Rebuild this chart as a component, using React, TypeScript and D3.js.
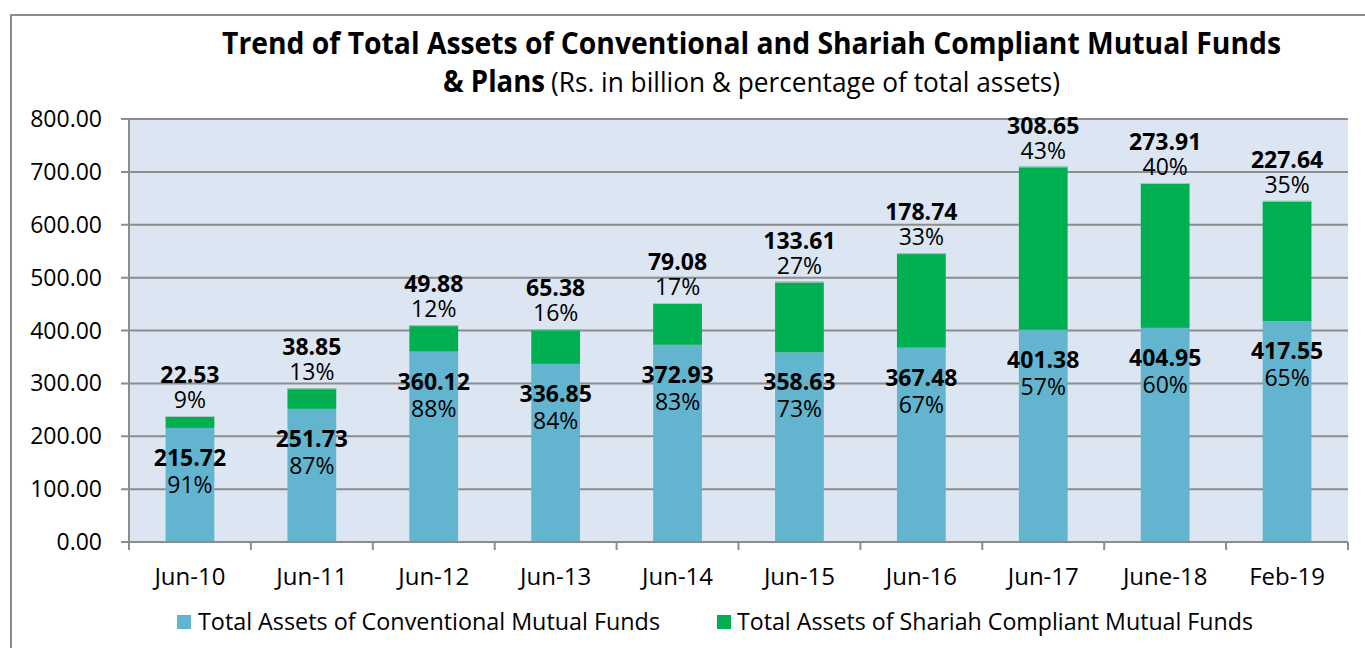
import React from "react";
import * as d3 from "d3";

const categories = ["Jun-10", "Jun-11", "Jun-12", "Jun-13", "Jun-14", "Jun-15", "Jun-16", "Jun-17", "June-18", "Feb-19"];
const conventional = [215.72, 251.73, 360.12, 336.85, 372.93, 358.63, 367.48, 401.38, 404.95, 417.55];
const shariah = [22.53, 38.85, 49.88, 65.38, 79.08, 133.61, 178.74, 308.65, 273.91, 227.64];
const conventionalPct = ["91%", "87%", "88%", "84%", "83%", "73%", "67%", "57%", "60%", "65%"];
const shariahPct = ["9%", "13%", "12%", "16%", "17%", "27%", "33%", "43%", "40%", "35%"];
const yTicks = [0, 100, 200, 300, 400, 500, 600, 700, 800];
const seriesNames = ["Total Assets of Conventional Mutual Funds", "Total Assets of Shariah Compliant Mutual Funds"];

const W = 1365;
const H = 648;
const M = { left: 129, right: 1348, top: 119, bottom: 542 };
const FONT = "'Open Sans', 'Noto Sans', sans-serif";
const BLUE = "#62B4CF";
const GREEN = "#00B050";
const GRID = "#8C8C8C";

export default function App() {
  const x = d3.scaleBand<string>().domain(categories).range([M.left, M.right]).paddingInner(0.6).paddingOuter(0.3);
  const xb = d3.scaleBand<string>().domain(categories).range([M.left, M.right]).padding(0);
  const y = d3.scaleLinear().domain([0, 800]).range([M.bottom, M.top]);
  const bw = x.bandwidth();
  const fmt = d3.format(".2f");

  const boundaries = categories.map((c) => xb(c) as number).concat([M.right]);

  return (
    <svg width={W} height={H} style={{ position: "absolute", left: 0, top: 0, background: "#fff" }} fontFamily={FONT}>
      <rect x={11} y={15} width={W + 10} height={H + 10} fill="#fff" stroke="#8C8C8C" strokeWidth={2} />
      {/* title */}
      <text x={222} y={54} fontSize={30} fontWeight={700} textLength={1059} lengthAdjust="spacingAndGlyphs" fill="#000">
        Trend of Total Assets of Conventional and Shariah Compliant Mutual Funds
      </text>
      <text x={443} y={92} fontSize={30} fontWeight={700} textLength={102} lengthAdjust="spacingAndGlyphs" fill="#000">
        &amp; Plans
      </text>
      <text x={551} y={92} fontSize={28} textLength={509} lengthAdjust="spacingAndGlyphs" fill="#000">
        (Rs. in billion &amp; percentage of total assets)
      </text>

      {/* plot background */}
      <rect x={M.left} y={M.top} width={M.right - M.left} height={M.bottom - M.top} fill="#DCE6F2" />

      {/* gridlines + y ticks */}
      {yTicks.map((t) => (
        <g key={t}>
          <line x1={M.left - 8} x2={M.right} y1={y(t)} y2={y(t)} stroke={GRID} strokeWidth={2} />
          <text x={102} y={y(t)} dy="0.35em" textAnchor="end" fontSize={23} fill="#000">
            {fmt(t)}
          </text>
        </g>
      ))}
      <line x1={M.left} x2={M.left} y1={M.top} y2={M.bottom} stroke={GRID} strokeWidth={2} />

      {/* bars */}
      {categories.map((c, i) => {
        const x0 = x(c) as number;
        const c0 = y(conventional[i]);
        const t0 = y(conventional[i] + shariah[i]);
        return (
          <g key={c}>
            <rect x={x0} y={c0} width={bw} height={y(0) - c0} fill={BLUE} />
            <rect x={x0} y={t0} width={bw} height={c0 - t0} fill={GREEN} />
            <line x1={x0} x2={x0 + bw} y1={t0 + 0.5} y2={t0 + 0.5} stroke="#B7C3C7" strokeWidth={1} />
          </g>
        );
      })}

      {/* x axis */}
      <line x1={M.left} x2={M.right} y1={M.bottom} y2={M.bottom} stroke={GRID} strokeWidth={2} />
      {boundaries.map((bx, i) => (
        <line key={i} x1={bx} x2={bx} y1={M.bottom} y2={M.bottom + 8} stroke={GRID} strokeWidth={2} />
      ))}
      {categories.map((c) => (
        <text key={c} x={(x(c) as number) + bw / 2} y={577} dy="0.35em" textAnchor="middle" fontSize={24} fill="#000">
          {c}
        </text>
      ))}

      {/* labels */}
      {categories.map((c, i) => {
        const cx = (x(c) as number) + bw / 2;
        const c0 = y(conventional[i]);
        const t0 = y(conventional[i] + shariah[i]);
        return (
          <g key={c} fill="#000" textAnchor="middle" fontSize={23}>
            <text x={cx} y={c0 + 30} dy="0.35em">
              <tspan fontWeight={700}>{fmt(conventional[i])}</tspan>
              <tspan x={cx} dy={27}>{conventionalPct[i]}</tspan>
            </text>
            <text x={cx} y={t0 - 41} dy="0.35em">
              <tspan fontWeight={700}>{fmt(shariah[i])}</tspan>
              <tspan x={cx} dy={25}>{shariahPct[i]}</tspan>
            </text>
          </g>
        );
      })}

      {/* legend */}
      <rect x={177} y={615} width={14} height={14} fill={BLUE} />
      <text x={198} y={622} dy="0.35em" fontSize={23} textLength={462} lengthAdjust="spacingAndGlyphs" fill="#000">
        {seriesNames[0]}
      </text>
      <rect x={717} y={615} width={14} height={14} fill={GREEN} />
      <text x={737} y={622} dy="0.35em" fontSize={23} textLength={516} lengthAdjust="spacingAndGlyphs" fill="#000">
        {seriesNames[1]}
      </text>
    </svg>
  );
}
